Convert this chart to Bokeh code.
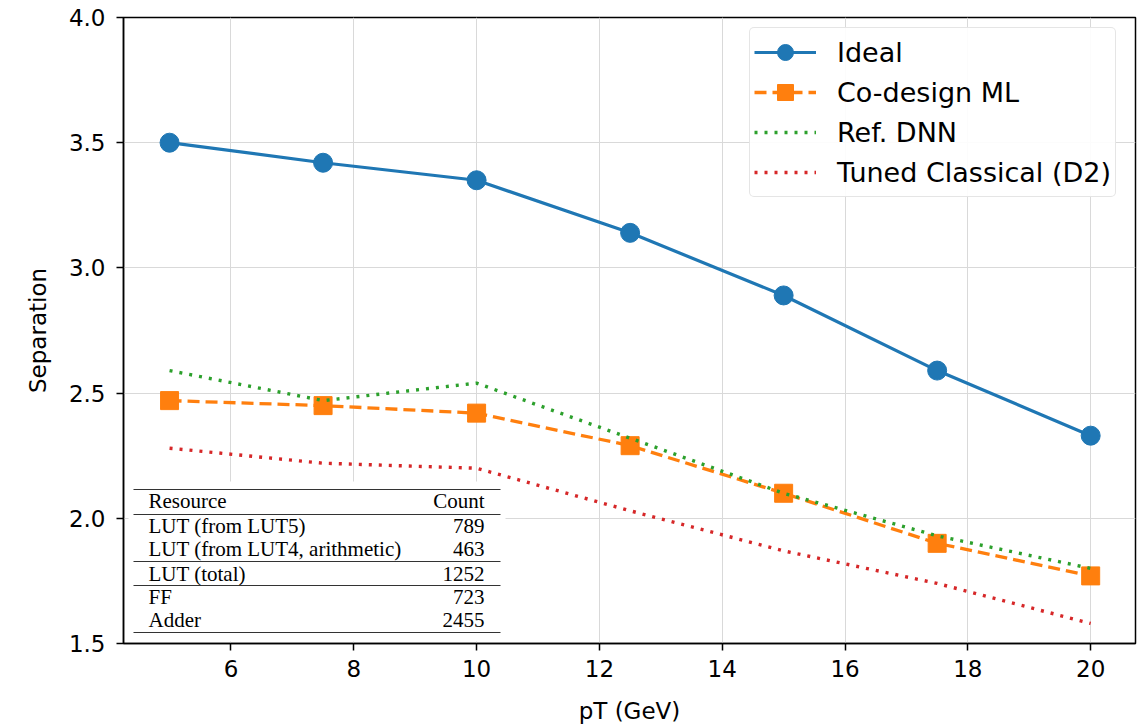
from bokeh.plotting import figure
from bokeh.models import (Range1d, Legend, LegendItem, Label, BoxAnnotation,
                          FixedTicker, PrintfTickFormatter)
from bokeh.embed import file_html
from bokeh.resources import INLINE

# ---- data ----
pt = [5, 7.5, 10, 12.5, 15, 17.5, 20]
ideal = [3.50, 3.42, 3.35, 3.14, 2.89, 2.59, 2.33]
codesign = [2.47, 2.45, 2.42, 2.29, 2.10, 1.90, 1.77]
ref_dnn = [2.59, 2.47, 2.54, 2.32, 2.10, 1.93, 1.80]
tuned = [2.28, 2.22, 2.20, 2.03, 1.87, 1.74, 1.58]

x_ticks = [6, 8, 10, 12, 14, 16, 18, 20]
y_ticks = [1.5, 2.0, 2.5, 3.0, 3.5, 4.0]

table_header = ["Resource", "Count"]
table_resources = ["LUT (from LUT5)", "LUT (from LUT4, arithmetic)", "LUT (total)", "FF", "Adder"]
table_counts = ["789", "463", "1252", "723", "2455"]

# ---- layout constants ----
W, H = 1137, 727
X0, X1 = 4.25, 20.73
Y0, Y1 = 1.5, 4.0
FL, FR, FT, FB = 123, 1135, 17, 643   # frame edges in picture pixels

def xd(px):
    return X0 + (px - FL) * (X1 - X0) / (FR - FL)

def yd(py):
    return Y1 - (py - FT) * (Y1 - Y0) / (FB - FT)

p = figure(width=W, height=H, output_backend="svg", toolbar_location=None,
           x_range=Range1d(X0, X1), y_range=Range1d(Y0, Y1),
           min_border_left=FL, min_border_top=FT,
           min_border_right=W - FR, min_border_bottom=H - FB)

p.background_fill_color = "white"
p.border_fill_color = "white"
p.outline_line_color = "black"
p.outline_line_width = 1.5

FONT = "DejaVu Sans"
for ax in (p.xaxis[0], p.yaxis[0]):
    ax.axis_line_color = "black"
    ax.axis_line_width = 1.5
    ax.major_tick_line_width = 1.5
    ax.major_tick_out = 7
    ax.major_tick_in = 0
    ax.minor_tick_line_color = None
    ax.major_label_text_font = FONT
    ax.major_label_text_font_size = "23px"
    ax.major_label_text_color = "black"
    ax.axis_label_text_font = FONT
    ax.axis_label_text_font_size = "23px"
    ax.axis_label_text_font_style = "normal"
    ax.axis_label_text_color = "black"

p.xaxis.ticker = FixedTicker(ticks=x_ticks)
p.yaxis.ticker = FixedTicker(ticks=y_ticks)
p.xaxis.formatter = PrintfTickFormatter(format="%d")
p.yaxis.formatter = PrintfTickFormatter(format="%.1f")
p.xaxis.axis_label = "pT (GeV)"
p.yaxis.axis_label = "Separation"
p.xaxis.major_label_standoff = 9
p.yaxis.major_label_standoff = 11
p.xaxis.axis_label_standoff = 18
p.yaxis.axis_label_standoff = 15

p.xgrid.ticker = FixedTicker(ticks=x_ticks)
p.ygrid.ticker = FixedTicker(ticks=y_ticks)
p.grid.grid_line_color = "#d9d9d9"
p.grid.grid_line_width = 1

BLUE, ORANGE, GREEN, RED = "#1f77b4", "#ff7f0e", "#2ca02c", "#d62728"

r_ideal_l = p.line(pt, ideal, line_color=BLUE, line_width=3.2)
r_ideal_m = p.scatter(pt, ideal, marker="circle", size=19, fill_color=BLUE, line_color=BLUE)
r_cd_l = p.line(pt, codesign, line_color=ORANGE, line_width=3.3, line_dash="12 6")
r_cd_m = p.scatter(pt, codesign, marker="square", size=18, fill_color=ORANGE, line_color=ORANGE)
r_dnn = p.line(pt, ref_dnn, line_color=GREEN, line_width=3.4, line_dash="3 7")
r_tuned = p.line(pt, tuned, line_color=RED, line_width=3.4, line_dash="3 7")

legend = Legend(items=[
    LegendItem(label="Ideal", renderers=[r_ideal_l, r_ideal_m]),
    LegendItem(label="Co-design ML", renderers=[r_cd_l, r_cd_m]),
    LegendItem(label="Ref. DNN", renderers=[r_dnn]),
    LegendItem(label="Tuned Classical (D2)", renderers=[r_tuned]),
], location=(749 - FL, FB - 197))
legend.label_text_font = FONT
legend.label_text_font_size = "27px"
legend.label_text_color = "black"
legend.glyph_width = 62
legend.glyph_height = 40
legend.label_height = 40
legend.label_standoff = 21
legend.spacing = 0
legend.padding = 4
legend.margin = 0
legend.border_line_color = "#cccccc"
legend.border_line_width = 1.3
legend.background_fill_color = "white"
legend.background_fill_alpha = 0.9
try:
    legend.border_radius = 5
except Exception:
    pass
p.add_layout(legend)

# ---- inset table ----
p.add_layout(BoxAnnotation(left=xd(128), right=xd(505), top=yd(481), bottom=yd(641),
                           fill_color="white", fill_alpha=1.0, line_color=None))
for ry in (489, 514, 561, 585, 632):
    p.add_layout(BoxAnnotation(left=xd(133), right=xd(500), top=yd(ry - 0.6), bottom=yd(ry + 0.6),
                               fill_color="#333333", fill_alpha=1.0, line_color=None))

SERIF = "Liberation Serif"
row_y = [500, 525, 548, 573, 596, 619]
names = [table_header[0]] + table_resources
counts = [table_header[1]] + table_counts
for i in range(len(names)):
    p.add_layout(Label(x=xd(148), y=yd(row_y[i]), text=names[i], text_font=SERIF,
                       text_font_size="21px", text_baseline="middle", text_align="left",
                       text_color="black"))
    p.add_layout(Label(x=xd(484), y=yd(row_y[i]), text=counts[i], text_font=SERIF,
                       text_font_size="21px", text_baseline="middle", text_align="right",
                       text_color="black"))

open("out.html", "w").write(file_html(p, INLINE))
